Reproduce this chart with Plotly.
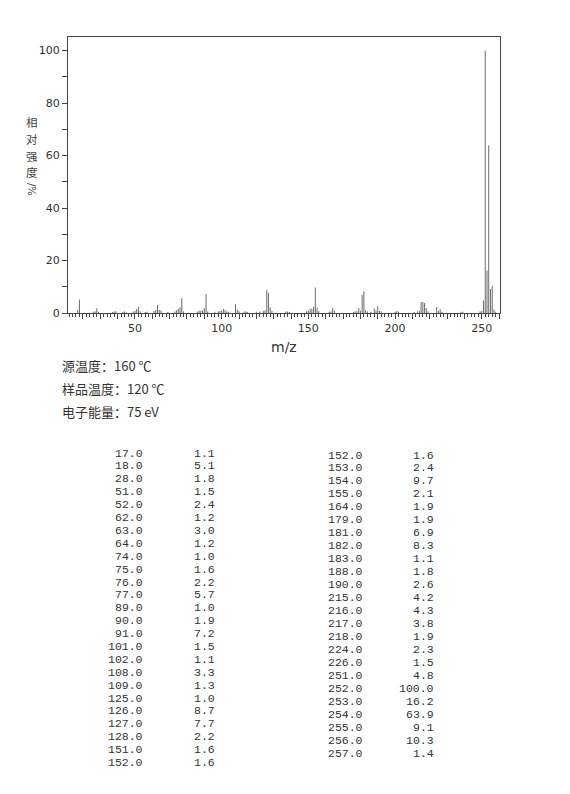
import plotly.graph_objects as go

# 主要峰（表格中列出）
MZ = [17, 18, 28, 51, 52, 62, 63, 64, 74, 75, 76, 77, 89, 90, 91, 101, 102, 108, 109,
      125, 126, 127, 128, 151, 152, 153, 154, 155, 164, 179, 181, 182, 183, 188, 190,
      215, 216, 217, 218, 224, 226, 251, 252, 253, 254, 255, 256, 257]
INTENSITY = [1.1, 5.1, 1.8, 1.5, 2.4, 1.2, 3.0, 1.2, 1.0, 1.6, 2.2, 5.7, 1.0, 1.9, 7.2, 1.5, 1.1, 3.3, 1.3,
             1.0, 8.7, 7.7, 2.2, 1.6, 1.6, 2.4, 9.7, 2.1, 1.9, 1.9, 6.9, 8.3, 1.1, 1.8, 2.6,
             4.2, 4.3, 3.8, 1.9, 2.3, 1.5, 4.8, 100.0, 16.2, 63.9, 9.1, 10.3, 1.4]

# 小于 1% 的小峰（图中估读）
MINOR_MZ = [26, 27, 29, 37, 38, 39, 43, 44, 45, 49, 50, 53, 56, 57, 61, 65, 69, 73, 78,
            86, 87, 88, 92, 96, 98, 99, 100, 103, 104, 110, 113, 114, 115, 120, 122, 124,
            129, 137, 138, 139, 149, 150, 156, 162, 163, 165, 176, 177, 178, 180, 184,
            186, 189, 191, 192, 200, 201, 202, 211, 213, 214, 219, 225, 227, 238, 239, 249, 250, 258]
MINOR_INT = [0.5, 0.6, 0.4, 0.4, 0.5, 0.7, 0.4, 0.6, 0.3, 0.5, 0.8, 0.7, 0.4, 0.5, 0.8, 0.9, 0.4, 0.6, 0.6,
             0.5, 0.9, 0.9, 0.6, 0.4, 0.6, 0.7, 0.9, 0.6, 0.5, 0.7, 0.5, 0.6, 0.4, 0.5, 0.6, 0.8,
             0.8, 0.5, 0.6, 0.4, 0.7, 0.9, 0.7, 0.5, 0.6, 0.9, 0.4, 0.6, 0.7, 0.9, 0.6,
             0.5, 0.9, 0.8, 0.6, 0.5, 0.7, 0.5, 0.4, 0.6, 0.8, 0.6, 0.7, 0.5, 0.4, 0.5, 0.6, 0.8, 0.5]

Y_TITLE = ["相", "对", "强", "度"]
CONDITIONS = ["源温度：160 ℃", "样品温度：120 ℃", "电子能量：75 eV"]

W, H = 570, 794
OFF = 8                         # 页面 body 默认边距
L, R, T, B = 68, 500, 37, 313   # 绘图区在截图中的像素边界


def px(x):
    return (x - L) / (R - L)


def py(y):
    return (B - y) / (B - T)


def note(text, x, y, font, xanchor='center', **kw):
    return dict(text=text, x=px(x), y=py(y), xref='paper', yref='paper',
                xanchor=xanchor, yanchor='middle', showarrow=False, font=font, **kw)


xs, ys = [], []
for m, v in zip(MZ + MINOR_MZ, INTENSITY + MINOR_INT):
    xs += [m, m, None]
    ys += [0, v, None]

fig = go.Figure(go.Scatter(
    x=xs, y=ys, mode='lines',
    line=dict(color='#6a6a6a', width=1),
    hoverinfo='skip', showlegend=False
))

TICK_FONT = dict(family='DejaVu Sans', size=11, color='#333333')

fig.update_xaxes(
    range=[11.4, 260.5],
    tickvals=list(range(20, 261, 10)),
    ticktext=[str(v) if v % 50 == 0 else '' for v in range(20, 261, 10)],
    ticks='outside', ticklen=5, tickcolor='#444444', tickwidth=1,
    minor=dict(dtick=2, tick0=0, ticks='outside', ticklen=3, tickcolor='#444444'),
    showline=True, linecolor='#444444', linewidth=1, mirror=True,
    showgrid=False, zeroline=False, tickfont=TICK_FONT
)
fig.update_yaxes(
    range=[0, 105.2],
    tickvals=list(range(0, 101, 10)),
    ticktext=[str(v) if v % 20 == 0 else '' for v in range(0, 101, 10)],
    ticks='outside', ticklen=5, tickcolor='#444444', tickwidth=1,
    showline=True, linecolor='#444444', linewidth=1, mirror=True,
    showgrid=False, zeroline=False, tickfont=TICK_FONT
)

CJK = dict(family='Noto Sans CJK SC', size=13, color='#333333')

ann = []
# 轴标题
ann.append(note('m/z', 284, 347, dict(family='DejaVu Sans', size=14, color='#333333')))
for i, ch in enumerate(Y_TITLE):
    ann.append(note(ch, 32, 122 + i * 16.8, dict(family='Noto Sans CJK SC', size=11.5, color='#444444')))
ann.append(note('/%', 32, 189, dict(family='DejaVu Sans', size=10, color='#444444'), textangle=90))

# 实验条件
for i, t in enumerate(CONDITIONS):
    ann.append(note(t, 60, 365 + i * 23.3, CJK, xanchor='left'))

# 峰表
MONO = dict(family='Liberation Mono', size=11.5, color='#333333')
left = list(zip(MZ[:25], INTENSITY[:25]))
right = list(zip(MZ[24:], INTENSITY[24:]))
cols = [(left, 145, 217, 453, 12.9), (right, 365, 436, 455, 12.97)]
for rows, xm, xv, y0, dy in cols:
    for i, (m, v) in enumerate(rows):
        ann.append(note(f'{m:.1f}', xm, y0 + i * dy, MONO, xanchor='right'))
        ann.append(note(f'{v:.1f}', xv, y0 + i * dy, MONO, xanchor='right'))

fig.update_layout(
    width=W, height=H,
    margin=dict(l=L - OFF, r=W - R + OFF, t=T - OFF, b=H - B + OFF),
    paper_bgcolor='white', plot_bgcolor='white',
    annotations=ann
)

fig.write_html("out.html")
